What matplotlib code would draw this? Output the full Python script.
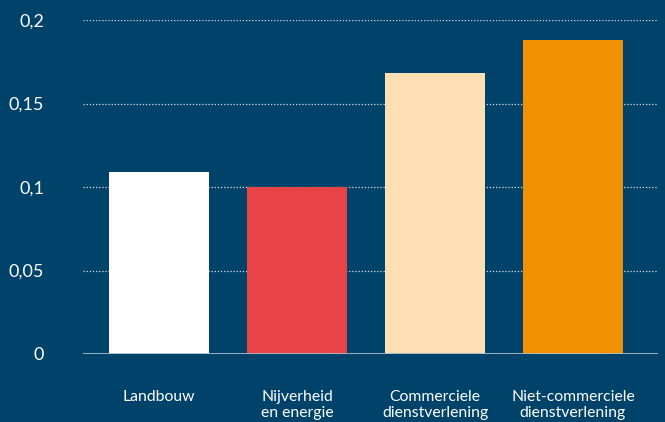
import matplotlib.pyplot as plt
import numpy as np

# Data
categories = ["Landbouw", "Nijverheid\nen energie", "Commerciele\ndienstverlening", "Niet-commerciele\ndienstverlening"]
values = [0.109, 0.1, 0.168, 0.188]
bar_colors = ["#ffffff", "#e84346", "#fddfb4", "#f29100"]
y_ticks = [0, 0.05, 0.1, 0.15, 0.2]
y_tick_labels = ["0", "0,05", "0,1", "0,15", "0,2"]

BG = "#00436a"

plt.rcParams['font.family'] = ['Lato', 'DejaVu Sans']

fig = plt.figure(figsize=(6.65, 4.22), dpi=100, facecolor=BG)
ax = fig.add_axes([83/665, 1 - 354/422, (658 - 83)/665, (354 - 20)/422])
ax.set_facecolor(BG)

x = np.arange(len(categories))
ax.bar(x, values, width=100/138, color=bar_colors, zorder=3)

ax.set_xlim(-0.551, 3.616)
ax.set_ylim(0, 0.2)

# dotted grid lines
for yv in y_ticks[1:]:
    ax.axhline(yv, color="white", linestyle=(0, (1, 1.5)), linewidth=0.9, alpha=0.85, zorder=1)
# baseline
ax.axhline(0, color="#a9bccb", linewidth=2, zorder=4)

ax.set_yticks(y_ticks)
ax.set_yticklabels(y_tick_labels, color="white", fontsize=13)
ax.set_xticks(x)
ax.set_xticklabels(categories, color="white", fontsize=11.3, linespacing=1.2)
ax.tick_params(axis='y', length=0, pad=28)
ax.tick_params(axis='x', length=0, pad=26)

for s in ax.spines.values():
    s.set_visible(False)

fig.savefig("out.png", dpi=100, facecolor=BG)
